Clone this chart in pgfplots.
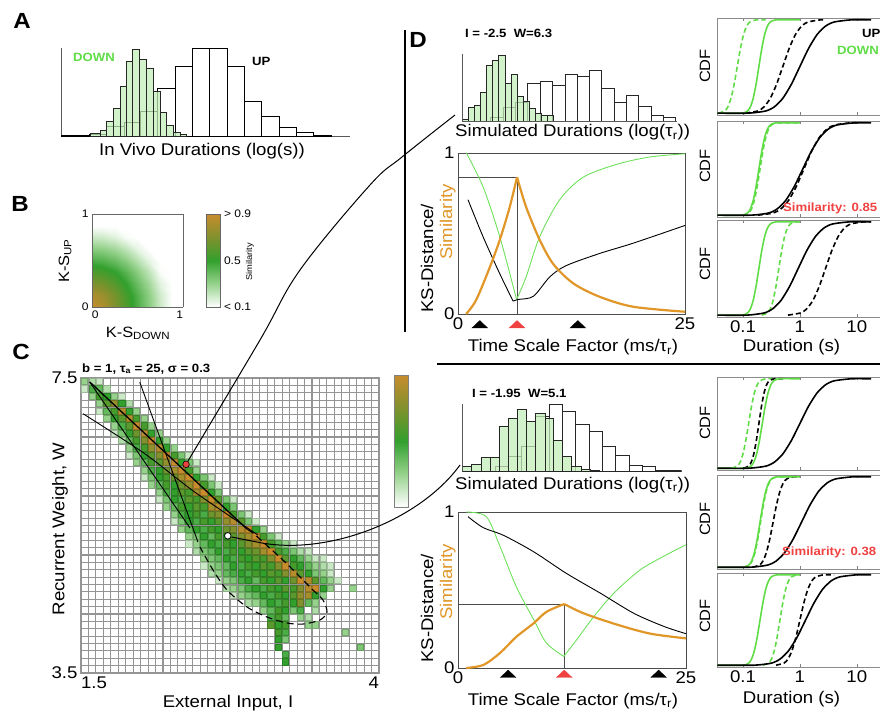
\documentclass[border=0pt]{standalone}
\usepackage{fontspec}
\setmainfont[FakeStretch=1.1]{Liberation Sans}
\usepackage{pgfplots}
\pgfplotsset{compat=1.18}
\definecolor{dgreen}{RGB}{95,220,70}
\definecolor{ksgreen}{RGB}{110,225,90}
\definecolor{histgreen}{RGB}{195,238,185}
\definecolor{orng}{RGB}{225,150,40}
\definecolor{rd}{RGB}{240,65,65}
\newcommand\fL{\fontsize{17}{19}\selectfont}
\newcommand\fM{\fontsize{15}{17}\selectfont}
\newcommand\fS{\fontsize{12}{14}\selectfont\bfseries}
\newcommand\fB{\fontsize{11}{13}\selectfont}
\newcommand\fXS{\fontsize{8.5}{10}\selectfont}
\newcommand\fP{\fontsize{22}{24}\selectfont\bfseries}
\pgfplotsset{
  colormap={simil}{rgb255=(255,255,255) rgb255=(150,210,140) rgb255=(50,160,45) rgb255=(128,145,45) rgb255=(200,140,45)},
  every axis/.append style={scale only axis, /pgf/number format/assume math mode=true, tick label style={font=\fL}},
  histax/.style={axis x line=bottom, axis y line=left, axis line style={-, black!65, line width=0.8bp}, xtick=\empty, ytick=\empty},
  ksax/.style={anchor=north west, xmin=0, xmax=25, ymin=0, ymax=1, xtick={0,25}, ytick={0,1}, major tick length=0pt, axis line style={black!70, line width=0.8bp}, clip=false},
  cdfax/.style={anchor=north west, width=174bp, xmin=-1.456, xmax=1.6, ymin=-0.02, ymax=1.02, xtick={-1,0,1}, ytick=\empty, tick align=inside, major tick length=3bp, axis line style={black!45, line width=0.8bp}, xticklabels={}},
  gs/.style={dgreen, line width=1.6bp, smooth, tension=0.4},
  gd/.style={dgreen, line width=1.6bp, smooth, tension=0.4, dash pattern=on 5bp off 3bp},
  bs/.style={black, line width=1.6bp, smooth, tension=0.4},
  bd/.style={black, line width=1.6bp, smooth, tension=0.4, dash pattern=on 5bp off 3bp},
  tri/.style={only marks, mark=triangle*, mark size=9bp, mark options={yscale=0.55, fill=#1, draw=#1}},
}
\begin{document}
\begin{tikzpicture}
\begin{scope}[x=1bp,y=-1bp]
\coordinate (pA) at (61,136.7);
\coordinate (pB) at (92,214);
\coordinate (pC) at (81,378);
\coordinate (pDh1) at (462.3,121);
\coordinate (pDk1) at (458,153);
\coordinate (pCdf1) at (717,18);
\coordinate (pCdf2) at (717,121);
\coordinate (pCdf3) at (717,220);
\coordinate (pDh2) at (462.3,471.7);
\coordinate (pDk2) at (458,512);
\coordinate (pCdf4) at (717,377);
\coordinate (pCdf5) at (717,475);
\coordinate (pCdf6) at (717,573);
\end{scope}

% ---------- A ----------
\begin{axis}[at={(pA)}, anchor=south west, width=289bp, height=88.3bp, xmin=183, xmax=1050, ymin=0, ymax=265, histax]
\addplot[ybar interval, fill=white, draw=black, line width=0.7bp] coordinates {(183,4) (215,3) (268,8) (320,30) (372,42) (420,75) (473,145) (525,210) (577,265) (629,265) (681,210) (733,105) (785,60) (837,28) (889,12) (941,5) (993,0)};
\addplot[ybar interval, fill=histgreen, fill opacity=0.75, draw=black!85, line width=0.6bp] coordinates {(270,10) (300,20) (320,45) (340,85) (360,150) (378,225) (398,262) (418,232) (440,205) (460,135) (480,72) (500,35) (520,12) (540,6) (560,0)};
\end{axis}

% ---------- B ----------
\begin{axis}[at={(pB)}, anchor=north west, width=91bp, height=93bp, view={0}{90},
  xmin=0, xmax=1, ymin=0, ymax=1, xtick={0,1}, ytick={0,1},
  xticklabels={\makebox[0pt][l]{0},\makebox[0pt][r]{1}},
  tick label style={font=\fB}, major tick length=0pt, axis line style={black!60},
  colormap name=simil, point meta min=0.1, point meta max=0.9,
  colorbar, colorbar style={at={(parent axis.north east)}, anchor=north west, xshift=15bp, width=14bp, height=93bp,
    ytick={0.1,0.5,0.9}, yticklabels={{< 0.1},{0.5},{> 0.9}}, yticklabel style={font=\fB}, major tick length=0pt, axis line style={black!60}}]
\addplot3[surf, shader=interp] table {
x y z
0 0 0.9
0.125 0 0.825
0.25 0 0.7
0.375 0 0.575
0.5 0 0.45
0.625 0 0.325
0.75 0 0.2
0.875 0 0.1
1 0 0.1

0 0.125 0.825
0.125 0.125 0.773
0.25 0.125 0.67
0.375 0.125 0.555
0.5 0.125 0.435
0.625 0.125 0.313
0.75 0.125 0.19
0.875 0.125 0.1
1 0.125 0.1

0 0.25 0.7
0.125 0.25 0.67
0.25 0.25 0.596
0.375 0.25 0.499
0.5 0.25 0.391
0.625 0.25 0.277
0.75 0.25 0.159
0.875 0.25 0.1
1 0.25 0.1

0 0.375 0.575
0.125 0.375 0.555
0.25 0.375 0.499
0.375 0.375 0.42
0.5 0.375 0.325
0.625 0.375 0.221
0.75 0.375 0.112
0.875 0.375 0.1
1 0.375 0.1

0 0.5 0.45
0.125 0.5 0.435
0.25 0.5 0.391
0.375 0.5 0.325
0.5 0.5 0.243
0.625 0.5 0.15
0.75 0.5 0.1
0.875 0.5 0.1
1 0.5 0.1

0 0.625 0.325
0.125 0.625 0.313
0.25 0.625 0.277
0.375 0.625 0.221
0.5 0.625 0.15
0.625 0.625 0.1
0.75 0.625 0.1
0.875 0.625 0.1
1 0.625 0.1

0 0.75 0.2
0.125 0.75 0.19
0.25 0.75 0.159
0.375 0.75 0.112
0.5 0.75 0.1
0.625 0.75 0.1
0.75 0.75 0.1
0.875 0.75 0.1
1 0.75 0.1

0 0.875 0.1
0.125 0.875 0.1
0.25 0.875 0.1
0.375 0.875 0.1
0.5 0.875 0.1
0.625 0.875 0.1
0.75 0.875 0.1
0.875 0.875 0.1
1 0.875 0.1

0 1 0.1
0.125 1 0.1
0.25 1 0.1
0.375 1 0.1
0.5 1 0.1
0.625 1 0.1
0.75 1 0.1
0.875 1 0.1
1 1 0.1
};
\end{axis}

% ---------- C ----------
\begin{axis}[at={(pC)}, anchor=north west, width=298bp, height=295bp,
  xmin=-0.5, xmax=39.5, ymin=-0.5, ymax=39.5,
  xtick={-0.5,39.5}, xticklabels={\makebox[0pt][l]{1.5},\makebox[0pt][r]{4}},
  ytick={-0.5,39.5}, yticklabels={3.5,7.5},
  minor xtick={-0.5,0.5,...,39.5}, minor ytick={-0.5,0.5,...,39.5},
  grid=minor, minor grid style={draw=black!42, line width=1.1bp},
  major tick length=0pt, minor tick length=0pt,
  axis line style={black!42, line width=1.1bp},
  clip marker paths=true,
  colormap name=simil, point meta min=0.1, point meta max=0.9,
  colorbar, colorbar style={at={(parent axis.north east)}, anchor=north west, xshift=7bp, yshift=3bp, width=14bp, height=132bp, ytick=\empty, axis line style={black!50}}]
\addplot[scatter, only marks, mark=square*, mark size=3.1bp, point meta=explicit, mark options={line width=0pt}] table[x=x, y=y, meta=v] {
x y v
0 39 .3
1 39 .25
2 39 .2
0 38 .2
1 38 .45
2 38 .4
3 38 .25
1 37 .3
2 37 .55
3 37 .5
4 37 .3
5 37 .2
2 36 .3
3 36 .6
4 36 .75
5 36 .5
6 36 .25
2 35 .2
3 35 .4
4 35 .55
5 35 .85
6 35 .5
7 35 .3
3 34 .3
4 34 .5
5 34 .6
6 34 .85
7 34 .55
8 34 .3
4 33 .3
5 33 .45
6 33 .6
7 33 .9
8 33 .55
9 33 .3
4 32 .2
5 32 .35
6 32 .5
7 32 .65
8 32 .85
9 32 .5
10 32 .3
5 31 .25
6 31 .4
7 31 .55
8 31 .7
9 31 .9
10 31 .5
11 31 .3
6 30 .3
7 30 .45
8 30 .55
9 30 .75
10 30 .85
11 30 .5
12 30 .3
6 29 .2
7 29 .35
8 29 .5
9 29 .6
10 29 .7
11 29 .9
12 29 .55
13 29 .35
14 29 .2
7 28 .3
8 28 .4
9 28 .55
10 28 .6
11 28 .75
12 28 .9
13 28 .5
14 28 .35
15 28 .2
8 27 .3
9 27 .45
10 27 .5
11 27 .65
12 27 .8
13 27 .9
14 27 .55
15 27 .3
8 26 .2
9 26 .35
10 26 .5
11 26 .55
12 26 .65
13 26 .8
14 26 .9
15 26 .5
16 26 .35
17 26 .2
9 25 .3
10 25 .4
11 25 .55
12 25 .5
13 25 .65
14 25 .75
15 25 .9
16 25 .55
17 25 .35
18 25 .2
10 24 .3
11 24 .45
12 24 .5
13 24 .6
14 24 .55
15 24 .8
16 24 .9
17 24 .5
18 24 .35
10 23 .2
11 23 .35
12 23 .5
13 23 .45
14 23 .6
15 23 .55
16 23 .7
17 23 .9
18 23 .6
19 23 .35
20 23 .2
11 22 .3
12 22 .4
13 22 .55
14 22 .5
15 22 .6
16 22 .55
17 22 .8
18 22 .85
19 22 .5
20 22 .35
12 21 .3
13 21 .45
14 21 .5
15 21 .55
16 21 .45
17 21 .65
18 21 .7
19 21 .9
20 21 .55
21 21 .35
22 21 .2
12 20 .2
13 20 .35
14 20 .5
15 20 .45
16 20 .55
17 20 .5
18 20 .6
19 20 .75
20 20 .85
21 20 .6
22 20 .35
23 20 .2
13 19 .3
14 19 .4
15 19 .5
16 19 .45
17 19 .55
18 19 .5
19 19 .65
20 19 .7
21 19 .85
22 19 .9
23 19 .5
24 19 .3
14 18 .3
15 18 .35
16 18 .5
17 18 .4
18 18 .55
19 18 .5
20 18 .6
21 18 .7
22 18 .8
23 18 .9
24 18 .55
25 18 .35
26 18 .2
14 17 .2
15 17 .3
16 17 .4
17 17 .5
18 17 .45
19 17 .55
20 17 .5
21 17 .6
22 17 .7
23 17 .8
24 17 .9
25 17 .55
26 17 .4
27 17 .3
28 17 .2
15 16 .25
16 16 .35
17 16 .4
18 16 .5
19 16 .45
20 16 .55
21 16 .5
22 16 .6
23 16 .65
24 16 .8
25 16 .9
26 16 .55
27 16 .45
28 16 .35
29 16 .25
30 16 .2
16 15 .3
17 15 .35
18 15 .4
19 15 .5
20 15 .45
21 15 .55
22 15 .5
23 15 .6
24 15 .55
25 15 .7
26 15 .9
27 15 .6
28 15 .5
29 15 .4
30 15 .3
31 15 .2
32 15 .2
16 14 .2
17 14 .3
18 14 .35
19 14 .4
20 14 .5
21 14 .45
22 14 .55
23 14 .5
24 14 .6
25 14 .55
26 14 .7
27 14 .9
28 14 .55
29 14 .5
30 14 .4
31 14 .3
32 14 .25
33 14 .2
17 13 .25
18 13 .3
19 13 .4
20 13 .45
21 13 .5
22 13 .45
23 13 .55
24 13 .5
25 13 .6
26 13 .55
27 13 .7
28 13 .85
29 13 .6
30 13 .5
31 13 .35
32 13 .3
33 13 .2
18 12 .2
19 12 .3
20 12 .35
21 12 .45
22 12 .5
23 12 .4
24 12 .55
25 12 .5
26 12 .6
27 12 .5
28 12 .65
29 12 .9
30 12 .85
31 12 .6
32 12 .4
33 12 .3
34 12 .2
19 11 .25
20 11 .3
21 11 .35
22 11 .45
23 11 .5
24 11 .45
25 11 .55
26 11 .5
27 11 .6
28 11 .55
29 11 .7
30 11 .85
31 11 .9
32 11 .5
33 11 .3
36 11 .3
20 10 .2
21 10 .3
22 10 .35
23 10 .4
24 10 .5
25 10 .45
26 10 .55
27 10 .5
28 10 .6
29 10 .75
30 10 .8
31 10 .5
32 10 .3
22 9 .25
23 9 .3
24 9 .4
25 9 .5
26 9 .45
27 9 .55
28 9 .5
29 9 .7
30 9 .4
31 9 .3
24 8 .3
25 8 .4
26 8 .55
27 8 .5
28 8 .35
29 8 .45
31 8 .25
25 7 .45
26 7 .55
27 7 .4
29 7 .3
30 7 .25
25 6 .6
26 6 .5
27 6 .55
30 6 .3
31 6 .3
26 5 .55
27 5 .45
35 5 .3
26 4 .5
27 4 .35
26 3 .5
37 3 .35
27 2 .45
27 1 .5
};
\addplot[black, line width=1.3bp] coordinates {(0.67,38.96) (21.85,18.96)};
\addplot[black, line width=0.9bp] coordinates {(0.67,38.96) (14.13,19.16)};
\addplot[black, line width=0.9bp] coordinates {(7.38,38.96) (15.2,17.26)};
\addplot[black, line width=0.9bp, smooth] coordinates {(-0.23,34.66) (8.05,29.24) (14.76,24.04) (23.26,18.21)};
\addplot[black, line width=1.1bp, smooth, dash pattern=on 7bp off 4bp] coordinates {(21.85,18.96) (22.59,18.48) (23.93,17.26) (26.61,14.82) (28.9,12.52) (30.64,10.75) (31.98,9.4) (32.52,7.77) (31.58,6.69) (29.3,6.14) (27.15,6.28) (24.47,7.09) (21.78,8.45) (19.1,10.75) (17.22,13.47) (15.47,16.58)};
\addplot[only marks, mark=*, mark size=3.3bp, mark options={fill=rd, draw=black, line width=0.6bp}] coordinates {(13.6,27.8)};
\addplot[only marks, mark=*, mark size=3.3bp, mark options={fill=white, draw=black, line width=0.8bp}] coordinates {(19.2,18.1)};
\end{axis}

% ---------- D top ----------
\begin{axis}[at={(pDh1)}, anchor=south west, width=214.3bp, height=66.7bp, xmin=22, xmax=665, ymin=0, ymax=200, histax]
\addplot[ybar interval, fill=white, draw=black!85, line width=0.7bp] coordinates {(105,12) (145,40) (182,55) (218,112) (255,120) (292,108) (330,140) (366,135) (403,152) (440,97) (477,57) (514,78) (550,45) (588,18) (625,12) (662,0)};
\addplot[ybar interval, fill=histgreen, fill opacity=0.75, draw=black!85, line width=0.6bp] coordinates {(22,6) (40,40) (58,47) (77,85) (95,168) (113,182) (131,197) (150,112) (168,140) (186,75) (204,58) (222,38) (240,23) (258,18) (276,18) (294,0)};
\end{axis}

\begin{axis}[at={(pDk1)}, ksax, width=227bp, height=161bp]
\addplot[black!70, line width=0.7bp] coordinates {(0,0.85) (6.5,0.85) (6.5,0)};
\addplot[ksgreen, line width=0.9bp, smooth] coordinates {(0.92,1.0) (2.76,0.79) (4.6,0.48) (6.45,0.09)};
\addplot[ksgreen, line width=0.9bp, smooth] coordinates {(6.45,0.09) (7.5,0.23) (9,0.48) (11.2,0.71) (13.8,0.85) (17.5,0.93) (21.1,0.975) (25,0.995)};
\addplot[black, line width=0.9bp, smooth] coordinates {(1.1,0.71) (2.76,0.48) (4.6,0.25) (6.07,0.08)};
\addplot[black, line width=0.9bp, smooth] coordinates {(6.07,0.08) (6.6,0.09) (8.3,0.11) (10.1,0.23) (11.9,0.30) (15.6,0.376) (19.3,0.44) (25,0.55)};
\addplot[orng, line width=2.2bp, smooth] coordinates {(0.9,0) (2.0,0.087) (3.5,0.29) (4.6,0.46) (5.7,0.665) (6.5,0.85)};
\addplot[orng, line width=2.2bp, smooth] coordinates {(6.5,0.85) (7.5,0.665) (9,0.46) (10.5,0.31) (12.7,0.19) (15.6,0.107) (19.3,0.045) (25,0.014)};
\addplot[tri=black] coordinates {(2.4,-0.0714) (13.2,-0.0714)};
\addplot[tri=rd] coordinates {(6.5,-0.0714)};
\end{axis}

\begin{axis}[at={(pCdf1)}, cdfax, height=97bp]
\addplot[gd] coordinates {(-1.43,0) (-1.32,0.023) (-1.265,0.067) (-1.21,0.159) (-1.155,0.309) (-1.1,0.5) (-1.045,0.691) (-0.99,0.841) (-0.935,0.933) (-0.88,0.977) (-0.77,1) (-0.6,1)};
\addplot[bd] coordinates {(-0.96,0) (-0.74,0.023) (-0.63,0.067) (-0.52,0.159) (-0.41,0.309) (-0.3,0.5) (-0.19,0.691) (-0.08,0.841) (0.03,0.933) (0.14,0.977) (0.36,1) (0.45,1)};
\addplot[gs] coordinates {(-1.45,0) (-1.02,0) (-0.92,0.023) (-0.87,0.067) (-0.82,0.159) (-0.77,0.309) (-0.72,0.5) (-0.67,0.691) (-0.62,0.841) (-0.57,0.933) (-0.52,0.977) (-0.42,1) (0,1)};
\addplot[bs] coordinates {(-1.45,0) (-0.9,0) (-0.6,0.023) (-0.45,0.067) (-0.3,0.159) (-0.15,0.309) (0,0.5) (0.15,0.691) (0.3,0.841) (0.45,0.933) (0.6,0.977) (0.9,1) (1.25,1)};
\end{axis}
\begin{axis}[at={(pCdf2)}, cdfax, height=96bp]
\addplot[gd] coordinates {(-1.0,0) (-0.9,0.023) (-0.85,0.067) (-0.8,0.159) (-0.75,0.309) (-0.7,0.5) (-0.65,0.691) (-0.6,0.841) (-0.55,0.933) (-0.5,0.977) (-0.4,1) (0,1)};
\addplot[bd] coordinates {(-0.74,0) (-0.47,0.023) (-0.335,0.067) (-0.2,0.159) (-0.065,0.309) (0.07,0.5) (0.205,0.691) (0.34,0.841) (0.475,0.933) (0.61,0.977) (0.88,1) (1.0,1)};
\addplot[gs] coordinates {(-1.45,0) (-1.02,0) (-0.92,0.023) (-0.87,0.067) (-0.82,0.159) (-0.77,0.309) (-0.72,0.5) (-0.67,0.691) (-0.62,0.841) (-0.57,0.933) (-0.52,0.977) (-0.42,1) (0,1)};
\addplot[bs] coordinates {(-1.45,0) (-0.85,0) (-0.55,0.023) (-0.4,0.067) (-0.25,0.159) (-0.1,0.309) (0.05,0.5) (0.2,0.691) (0.35,0.841) (0.5,0.933) (0.65,0.977) (0.95,1) (1.25,1)};
\end{axis}
\begin{axis}[at={(pCdf3)}, cdfax, height=97bp, xticklabels={0.1,1,10}]
\addplot[gd] coordinates {(-0.67,0) (-0.57,0.023) (-0.52,0.067) (-0.47,0.159) (-0.42,0.309) (-0.37,0.5) (-0.32,0.691) (-0.27,0.841) (-0.22,0.933) (-0.17,0.977) (-0.07,1) (0,1)};
\addplot[bd] coordinates {(-0.21,0) (0.01,0.023) (0.12,0.067) (0.23,0.159) (0.34,0.309) (0.45,0.5) (0.56,0.691) (0.67,0.841) (0.78,0.933) (0.89,0.977) (1.11,1) (1.25,1)};
\addplot[gs] coordinates {(-1.45,0) (-1.02,0) (-0.92,0.023) (-0.87,0.067) (-0.82,0.159) (-0.77,0.309) (-0.72,0.5) (-0.67,0.691) (-0.62,0.841) (-0.57,0.933) (-0.52,0.977) (-0.42,1) (0,1)};
\addplot[bs] coordinates {(-1.45,0) (-0.93,0) (-0.63,0.023) (-0.48,0.067) (-0.33,0.159) (-0.18,0.309) (-0.03,0.5) (0.12,0.691) (0.27,0.841) (0.42,0.933) (0.57,0.977) (0.87,1) (1.25,1)};
\end{axis}

% ---------- D bottom ----------
\begin{axis}[at={(pDh2)}, anchor=south west, width=219.3bp, height=67.3bp, xmin=22, xmax=680, ymin=0, ymax=202, histax]
\addplot[ybar interval, fill=white, draw=black!85, line width=0.7bp] coordinates {(120,15) (160,45) (200,75) (242,165) (282,202) (322,182) (362,142) (402,122) (442,75) (482,50) (522,20) (562,17) (602,5) (642,5) (680,0)};
\addplot[ybar interval, fill=histgreen, fill opacity=0.75, draw=black!85, line width=0.6bp] coordinates {(22,15) (50,22) (78,42) (105,42) (132,135) (160,160) (187,188) (215,152) (242,175) (270,160) (296,95) (323,45) (350,15) (378,8) (405,5) (432,0)};
\end{axis}

\begin{axis}[at={(pDk2)}, ksax, width=228bp, height=156bp]
\addplot[black!70, line width=0.7bp] coordinates {(0,0.41) (11.65,0.41) (11.65,0)};
\addplot[ksgreen, line width=0.9bp, smooth] coordinates {(0.9,1.0) (3.1,0.97) (4.6,0.78) (6.4,0.52) (8.3,0.31) (9.7,0.16) (11.6,0.074)};
\addplot[ksgreen, line width=0.9bp, smooth] coordinates {(11.6,0.074) (13,0.18) (14.9,0.33) (17.1,0.48) (20,0.63) (23,0.73) (25,0.79)};
\addplot[black, line width=0.9bp, smooth] coordinates {(1.1,0.97) (2.76,0.90) (5,0.85) (8.3,0.745) (11.9,0.606) (15.6,0.48) (19.3,0.35) (22.6,0.266) (25,0.22)};
\addplot[orng, line width=2.2bp, smooth] coordinates {(0.9,0) (2.8,0.02) (4.6,0.096) (6.4,0.2) (8.3,0.287) (9.7,0.36) (11.65,0.41)};
\addplot[orng, line width=2.2bp, smooth] coordinates {(11.65,0.41) (13.8,0.35) (17.5,0.277) (21.1,0.22) (25,0.19)};
\addplot[tri=black] coordinates {(5.5,-0.045) (22,-0.045)};
\addplot[tri=rd] coordinates {(11.65,-0.045)};
\end{axis}

\begin{axis}[at={(pCdf4)}, cdfax, height=93bp]
\addplot[gd] coordinates {(-1.2,0) (-1.1,0.023) (-1.05,0.067) (-1.0,0.159) (-0.95,0.309) (-0.9,0.5) (-0.85,0.691) (-0.8,0.841) (-0.75,0.933) (-0.7,0.977) (-0.6,1) (-0.4,1)};
\addplot[bd] coordinates {(-0.99,0) (-0.9,0.023) (-0.855,0.067) (-0.81,0.159) (-0.765,0.309) (-0.72,0.5) (-0.675,0.691) (-0.63,0.841) (-0.585,0.933) (-0.54,0.977) (-0.45,1) (-0.3,1)};
\addplot[gs] coordinates {(-1.45,0) (-0.96,0) (-0.86,0.023) (-0.81,0.067) (-0.76,0.159) (-0.71,0.309) (-0.66,0.5) (-0.61,0.691) (-0.56,0.841) (-0.51,0.933) (-0.46,0.977) (-0.36,1) (0,1)};
\addplot[bs] coordinates {(-1.45,0) (-0.9,0) (-0.6,0.023) (-0.45,0.067) (-0.3,0.159) (-0.15,0.309) (0,0.5) (0.15,0.691) (0.3,0.841) (0.45,0.933) (0.6,0.977) (0.9,1) (1.25,1)};
\end{axis}
\begin{axis}[at={(pCdf5)}, cdfax, height=94bp]
\addplot[gd] coordinates {(-0.99,0) (-0.89,0.023) (-0.84,0.067) (-0.79,0.159) (-0.74,0.309) (-0.69,0.5) (-0.64,0.691) (-0.59,0.841) (-0.54,0.933) (-0.49,0.977) (-0.39,1) (-0.1,1)};
\addplot[bd] coordinates {(-0.83,0) (-0.71,0.023) (-0.65,0.067) (-0.59,0.159) (-0.53,0.309) (-0.47,0.5) (-0.41,0.691) (-0.35,0.841) (-0.29,0.933) (-0.23,0.977) (-0.11,1) (0,1)};
\addplot[gs] coordinates {(-1.45,0) (-1.0,0) (-0.9,0.023) (-0.85,0.067) (-0.8,0.159) (-0.75,0.309) (-0.7,0.5) (-0.65,0.691) (-0.6,0.841) (-0.55,0.933) (-0.5,0.977) (-0.4,1) (0,1)};
\addplot[bs] coordinates {(-1.45,0) (-0.87,0) (-0.57,0.023) (-0.42,0.067) (-0.27,0.159) (-0.12,0.309) (0.03,0.5) (0.18,0.691) (0.33,0.841) (0.48,0.933) (0.63,0.977) (0.93,1) (1.25,1)};
\end{axis}
\begin{axis}[at={(pCdf6)}, cdfax, height=94bp, xticklabels={0.1,1,10}]
\addplot[gd] coordinates {(-0.65,0) (-0.55,0.023) (-0.5,0.067) (-0.45,0.159) (-0.4,0.309) (-0.35,0.5) (-0.3,0.691) (-0.25,0.841) (-0.2,0.933) (-0.15,0.977) (-0.05,1) (0,1)};
\addplot[bd] coordinates {(-0.42,0) (-0.28,0.023) (-0.21,0.067) (-0.14,0.159) (-0.07,0.309) (0,0.5) (0.07,0.691) (0.14,0.841) (0.21,0.933) (0.28,0.977) (0.42,1) (0.6,1)};
\addplot[gs] coordinates {(-1.45,0) (-1.0,0) (-0.9,0.023) (-0.85,0.067) (-0.8,0.159) (-0.75,0.309) (-0.7,0.5) (-0.65,0.691) (-0.6,0.841) (-0.55,0.933) (-0.5,0.977) (-0.4,1) (0,1)};
\addplot[bs] coordinates {(-1.45,0) (-0.8,0) (-0.5,0.023) (-0.35,0.067) (-0.2,0.159) (-0.05,0.309) (0.1,0.5) (0.25,0.691) (0.4,0.841) (0.55,0.933) (0.7,0.977) (1.0,1) (1.25,1)};
\end{axis}

% ---------- annotations ----------
\begin{scope}[x=1bp,y=-1bp]
\draw[line width=1.2bp] (405,30) -- (405,332);
\draw[line width=1.2bp] (437,364) -- (880,364);
\draw[line width=1bp] plot[smooth, tension=0.6] coordinates {(188,461) (260,340) (300,270) (370,185) (402,157) (455,115)};
\draw[line width=1bp] (231.5,537) -- (262,543) .. controls (330,555) and (420,520) .. (460,465);
\node[font=\fP] at (22,21) {A};
\node[font=\fS, text=dgreen, anchor=west, inner sep=0pt] at (73,57.5) {DOWN};
\node[font=\fS, anchor=west, inner sep=0pt] at (252,61) {UP};
\node[font=\fL, anchor=base, inner sep=0pt] at (202,155) {In Vivo Durations (log(s))};
\node[font=\fP] at (20,204) {B};
\node[font=\fM, rotate=90] at (65,261) {K-S\textsubscript{UP}};
\node[font=\fM, anchor=base, inner sep=0pt] at (138,337) {K-S\textsubscript{DOWN}};
\node[font=\fXS, rotate=90] at (250,262) {Similarity};
\node[font=\fP] at (21,352) {C};
\node[font=\fS, anchor=base west, inner sep=0pt] at (82,372) {b = 1, τ\textsubscript{a} = 25, σ = 0.3};
\node[font=\fL, rotate=90] at (60,529) {Recurrent Weight, W};
\node[font=\fL, anchor=base, inner sep=0pt] at (228,707) {External Input, I};
\node[font=\fP] at (418,40) {D};
\node[font=\fS, anchor=west, inner sep=0pt] at (465,33) {I = -2.5\ \ W=6.3};
\node[font=\fL, anchor=base west, inner sep=0pt] at (455,136.5) {Simulated Durations (log(τ\textsubscript{r}))};
\node[font=\fL, rotate=90, anchor=base west, inner sep=0pt] at (433,313) {KS-Distance/};
\node[font=\fL, rotate=90, anchor=base west, inner sep=0pt, text=orng] at (452,260) {Similarity};
\node[font=\fL, anchor=base, inner sep=0pt] at (573,351.7) {Time Scale Factor (ms/τ\textsubscript{r})};
\node[font=\fM, rotate=90] at (705,66) {CDF};
\node[font=\fM, rotate=90] at (705,166) {CDF};
\node[font=\fM, rotate=90] at (705,264) {CDF};
\node[font=\fS, anchor=west, inner sep=0pt] at (862,33) {UP};
\node[font=\fS, anchor=west, inner sep=0pt, text=dgreen] at (837,50) {DOWN};
\node[font=\fS, anchor=west, inner sep=0pt, text=rd] at (783,208) {Similarity: 0.85};
\node[font=\fL, anchor=base, inner sep=0pt] at (791.5,351.7) {Duration (s)};
\node[font=\fS, anchor=west, inner sep=0pt] at (472,393) {I = -1.95\ \ W=5.1};
\node[font=\fL, anchor=base west, inner sep=0pt] at (455,489) {Simulated Durations (log(τ\textsubscript{r}))};
\node[font=\fL, rotate=90, anchor=base west, inner sep=0pt] at (433,663) {KS-Distance/};
\node[font=\fL, rotate=90, anchor=base west, inner sep=0pt, text=orng] at (452,620) {Similarity};
\node[font=\fL, anchor=base, inner sep=0pt] at (573,705) {Time Scale Factor (ms/τ\textsubscript{r})};
\node[font=\fM, rotate=90] at (705,423) {CDF};
\node[font=\fM, rotate=90] at (705,519) {CDF};
\node[font=\fM, rotate=90] at (705,616) {CDF};
\node[font=\fS, anchor=west, inner sep=0pt, text=rd] at (782,552) {Similarity: 0.38};
\node[font=\fL, anchor=base, inner sep=0pt] at (791.5,703) {Duration (s)};
\end{scope}
\pgfresetboundingbox
\useasboundingbox (0,0) rectangle (880bp,-715bp);
\end{tikzpicture}
\end{document}
